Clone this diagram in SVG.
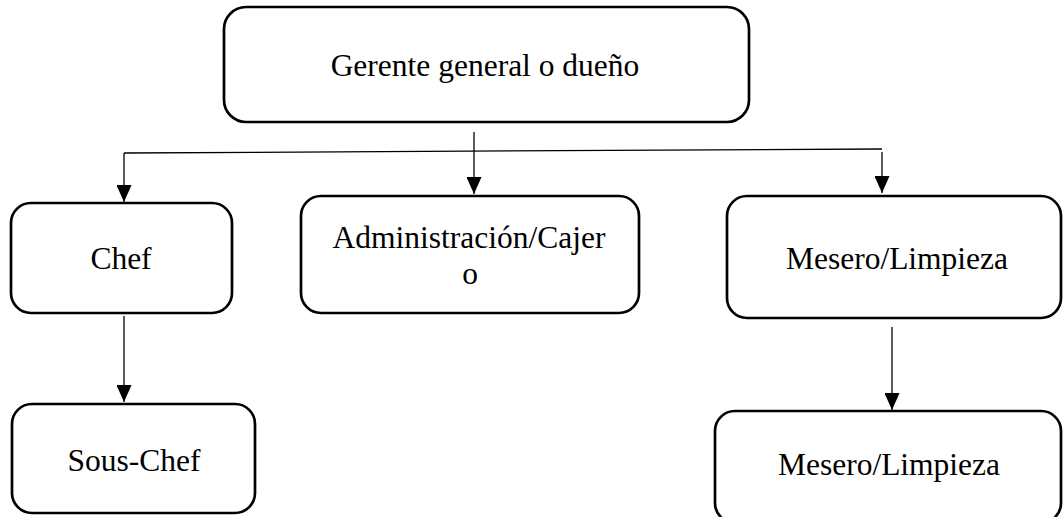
<svg xmlns="http://www.w3.org/2000/svg" width="1063" height="517" viewBox="0 0 1063 517">
<style>
.box{fill:#fff;stroke:#000;stroke-width:2.7}
.lbl{font-family:"Liberation Serif","Times New Roman",serif;font-size:31.5px;fill:#000;text-anchor:middle}
.con{fill:none;stroke:#000;stroke-width:1.3}
</style>
<defs>
<marker id="ah" viewBox="0 0 17 15" refX="17" refY="7.5" markerWidth="17" markerHeight="15" markerUnits="userSpaceOnUse" orient="auto">
<path d="M0,0 L17,7.5 L0,15 z" fill="#000"/>
</marker>
</defs>
<rect width="1063" height="517" fill="#fff"/>
<g id="connectors">
<line class="con" x1="124" y1="153" x2="882" y2="149"/>
<line class="con" x1="124" y1="153" x2="124" y2="202" marker-end="url(#ah)"/>
<line class="con" x1="474" y1="132" x2="474" y2="194" marker-end="url(#ah)"/>
<line class="con" x1="882" y1="152" x2="882" y2="193" marker-end="url(#ah)"/>
<line class="con" x1="124" y1="316" x2="124" y2="402" marker-end="url(#ah)"/>
<line class="con" x1="892" y1="327" x2="892" y2="410" marker-end="url(#ah)"/>
</g>
<g id="gerente">
<rect class="box" x="224" y="7" width="525" height="115" rx="22"/>
<text class="lbl" x="485" y="76">Gerente general o dueño</text>
</g>
<g id="chef">
<rect class="box" x="11" y="203" width="221" height="110" rx="20"/>
<text class="lbl" x="121" y="269">Chef</text>
</g>
<g id="admin">
<rect class="box" x="301" y="196" width="338" height="117" rx="20"/>
<text class="lbl" x="469" y="248">Administración/Cajer</text>
<text class="lbl" x="470" y="284">o</text>
</g>
<g id="mesero1">
<rect class="box" x="727" y="196" width="334" height="122" rx="20"/>
<text class="lbl" x="897" y="269">Mesero/Limpieza</text>
</g>
<g id="souschef">
<rect class="box" x="12" y="404" width="243" height="109" rx="20"/>
<text class="lbl" x="134" y="471">Sous-Chef</text>
</g>
<g id="mesero2">
<rect class="box" x="715" y="411" width="346" height="112" rx="20"/>
<text class="lbl" x="889" y="475">Mesero/Limpieza</text>
</g>
</svg>
